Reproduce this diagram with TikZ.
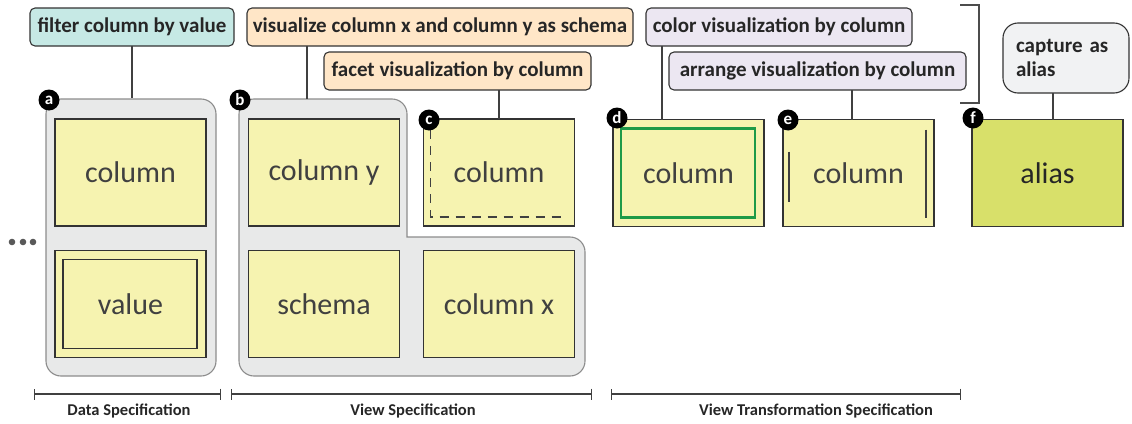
\documentclass[tikz,border=0pt]{standalone}
\usepackage{fontspec}
\setmainfont{Carlito}
\usetikzlibrary{calc, arrows.meta, positioning}

\definecolor{tealtag}{RGB}{198,233,229}
\definecolor{peachtag}{RGB}{255,230,199}
\definecolor{lilactag}{RGB}{236,231,242}
\definecolor{greytag}{RGB}{241,242,243}
\definecolor{panelgrey}{RGB}{232,233,233}
\definecolor{cardyellow}{RGB}{246,243,176}
\definecolor{aliasgreen}{RGB}{216,224,106}
\definecolor{markgreen}{RGB}{30,154,72}
\definecolor{inkgrey}{RGB}{64,64,64}

\begin{document}
\begin{tikzpicture}[x=1pt, y=-1pt, >=latex]
	\tikzstyle{tag} = [draw=black!80, rounded corners=5pt, line width=1.1pt, minimum height=38pt, inner sep=0pt, outer sep=0pt, text=black!85, font=\fontsize{21}{24}\selectfont\bfseries]
	\tikzstyle{card} = [draw=black!80, fill=cardyellow, line width=1.1pt, minimum width=151pt, minimum height=107pt, inner sep=0pt, outer sep=0pt, text=inkgrey, font=\fontsize{30}{32}\selectfont]
	\tikzstyle{panel} = [draw=black!45, fill=panelgrey, line width=1.1pt, rounded corners=15pt]
	\tikzstyle{badge} = [circle, fill=black, text=white, inner sep=0pt, minimum size=21pt, font=\fontsize{17}{17}\selectfont\bfseries]
	\tikzstyle{link} = [draw=inkgrey, line width=2.6pt]
	\tikzstyle{span} = [draw=inkgrey, line width=1.4pt, {Bar[width=11pt]}-{Bar[width=11pt]}]
	\tikzstyle{caption} = [font=\fontsize{16.5}{18}\selectfont\bfseries, text=black!85]

	\useasboundingbox (0,0) rectangle (1132,423);

	% grey panels
	\node[panel, minimum width=170pt, minimum height=277pt] at (131,237.5) (panA) {};
	\path[panel] (239,237) -- (239,99) -- (407,99) [sharp corners] -- (407,237) [rounded corners=15pt] -- (585,237) -- (585,376) -- (239,376) -- cycle;
	\coordinate (visfoot) at (307,99);

	% yellow cards
	\node[card] at (130.5,172.5)	(colA)		{column};
	\node[card] at (130.5,304)		(valA)		{value};
	\node[card] at (324,172.5)		(colY)		{column y};
	\node[card] at (324,304)		(schema)	{schema};
	\node[card] at (499,304)		(colX)		{column x};
	\node[card] at (499,172.5)		(colC)		{column};
	\node[card] at (688.5,173)		(colD)		{column};
	\node[card] at (858.5,173)		(colE)		{column};
	\node[card, fill=aliasgreen, text=black!85] at (1047.5,173) (aliasF) {alias};

	% marks inside the cards
	\draw[draw=black!80, line width=1.1pt] ($(valA.north west)+(8,9)$) rectangle ($(valA.south east)+(-9,-9)$);
	\draw[draw=black!75, line width=1.3pt, dash pattern=on 9pt off 7pt] ($(colC.north west)+(7,11)$) |- ($(colC.south east)+(-11,-9)$);
	\draw[draw=markgreen, line width=2.6pt] ($(colD.north west)+(8,9)$) rectangle ($(colD.south east)+(-9,-9)$);
	\draw[draw=black!75, line width=1.3pt] ($(colE.north west)+(6,32)$) -- ($(colE.north west)+(6,82)$);
	\draw[draw=black!75, line width=1.3pt] ($(colE.north east)+(-8,10)$) -- ($(colE.south east)+(-8,-9)$);

	% operation tags
	\node[tag, fill=tealtag, minimum width=204pt] at (132,27)	(filt)		{filter column by value};
	\node[tag, fill=peachtag, minimum width=386pt] at (440,27)	(vis)		{visualize column x and column y as schema};
	\node[tag, fill=peachtag, minimum width=267pt] at (457.5,71)	(facet)		{facet visualization by column};
	\node[tag, fill=lilactag, minimum width=266pt] at (779,27)	(color)		{color visualization by column};
	\node[tag, fill=lilactag, minimum width=297pt] at (817.5,71)	(arrange)	{arrange visualization by column};
	\node[tag, fill=greytag, rounded corners=15pt, minimum width=126pt, minimum height=70pt, text width=100pt, align=left] at (1066,58) (capt) {capture as\\alias};

	\coordinate (dfoot) at ($(colD.north west)+(49,0)$);
	\coordinate (efoot) at ($(colE.north)+(-6.5,0)$);
	\coordinate (ffoot) at ($(aliasF.north)+(5.5,0)$);

	\draw[link] (filt.south) -- (filt.south |- panA.north);
	\draw[link] (vis.south -| visfoot) -- (visfoot);
	\draw[link] (facet.south -| colC.north) -- (colC.north);
	\draw[link] (color.south -| dfoot) -- (dfoot);
	\draw[link] (arrange.south -| efoot) -- (efoot);
	\draw[link] (capt.south -| ffoot) -- (ffoot);

	% bracket round the transformation tags
	\draw[draw=black!70, line width=1.1pt] (960,5) -| (979,103) -- (960,103);

	% badges
	\node[badge] at (49,100)	(ba) {a};
	\node[badge] at (240,100)	(bb) {b};
	\node[badge] at (429,120)	(bc) {c};
	\node[badge] at (617,118)	(bd) {d};
	\node[badge] at (788,120)	(be) {e};
	\node[badge] at (973,118)	(bf) {f};

	% ellipsis
	\foreach \x in {12,23,33}
		\fill[black!65] (\x,242) circle (3.3pt);

	% spans at the bottom
	\coordinate (d0) at (34,394);
	\coordinate (d1) at (221,394);
	\coordinate (v0) at (231,394);
	\coordinate (v1) at (592,394);
	\coordinate (t0) at (611,394);
	\coordinate (t1) at (961,394);
	\draw[span] (d0) -- (d1);
	\draw[span] (v0) -- (v1);
	\draw[span] (t0) -- (t1);
	\node[caption] at (129,411)	(dataLbl)	{Data Specification};
	\node[caption] at (413,411)	(viewLbl)	{View Specification};
	\node[caption] at (816,411)	(transLbl)	{View Transformation Specification};
\end{tikzpicture}
\end{document}
